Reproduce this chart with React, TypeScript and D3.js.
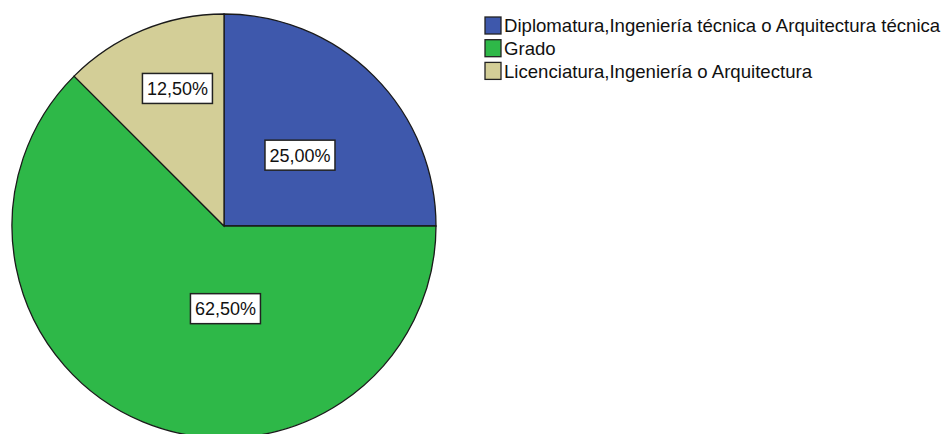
import React from "react";
import * as d3 from "d3";

// chart data
const categories = [
  "Diplomatura,Ingeniería técnica o Arquitectura técnica",
  "Grado",
  "Licenciatura,Ingeniería o Arquitectura",
];
const percents = [25, 62.5, 12.5];
const colors = ["#3e58ac", "#2eb848", "#d3ce97"];

// where SPSS put each label: angle in degrees (clockwise from top), fraction of radius
const labelPlacement = [
  { angle: 47, frac: 0.49 },
  { angle: 179, frac: 0.39 },
  { angle: 341.3, frac: 0.685 },
];

const W = 941;
const H = 434;
const cx = 224;
const cy = 226;
const radius = 212;
const FONT = "'Liberation Sans', Arial, sans-serif";

const fmt = (v: number) => v.toFixed(2).replace(".", ",") + "%";

function Label({ x, y, text }: { x: number; y: number; text: string }) {
  const w = 70;
  const h = 30;
  return (
    <g transform={`translate(${x},${y})`}>
      <rect x={-w / 2} y={-h / 2} width={w} height={h} fill="#fff" stroke="#222" strokeWidth={1.5} />
      <text textAnchor="middle" dy="0.36em" fontSize={18} fontFamily={FONT} fill="#111">
        {text}
      </text>
    </g>
  );
}

export default function App() {
  const pie = d3
    .pie<number>()
    .sort(null)
    .value((d) => d);
  const arcs = pie(percents);
  const arc = d3.arc<d3.PieArcDatum<number>>().innerRadius(0).outerRadius(radius);

  return (
    <svg width={W} height={H} style={{ position: "absolute", left: 0, top: 0, background: "#fff" }}>
      <g transform={`translate(${cx},${cy})`}>
        {arcs.map((a, i) => (
          <path key={i} d={arc(a) || ""} fill={colors[i]} stroke="#1a1a1a" strokeWidth={1.3} />
        ))}
        {arcs.map((a, i) => {
          const p = labelPlacement[i];
          const ang = (p.angle * Math.PI) / 180;
          const [lx, ly] = d3
            .arc()
            .innerRadius(radius * p.frac)
            .outerRadius(radius * p.frac)
            .centroid({ startAngle: ang, endAngle: ang } as any);
          return <Label key={i} x={lx} y={ly} text={fmt(a.data)} />;
        })}
      </g>

      {/* legend */}
      <g transform="translate(485,17)" fontFamily={FONT}>
        {categories.map((c, i) => (
          <g key={c} transform={`translate(0,${i * 22.7})`}>
            <rect x={0} y={0} width={16} height={17} fill={colors[i]} stroke="#222" strokeWidth={1.3} />
            <text x={19} y={8.5} dy="0.36em" fontSize={18.6} fill="#111">
              {c}
            </text>
          </g>
        ))}
      </g>
    </svg>
  );
}
